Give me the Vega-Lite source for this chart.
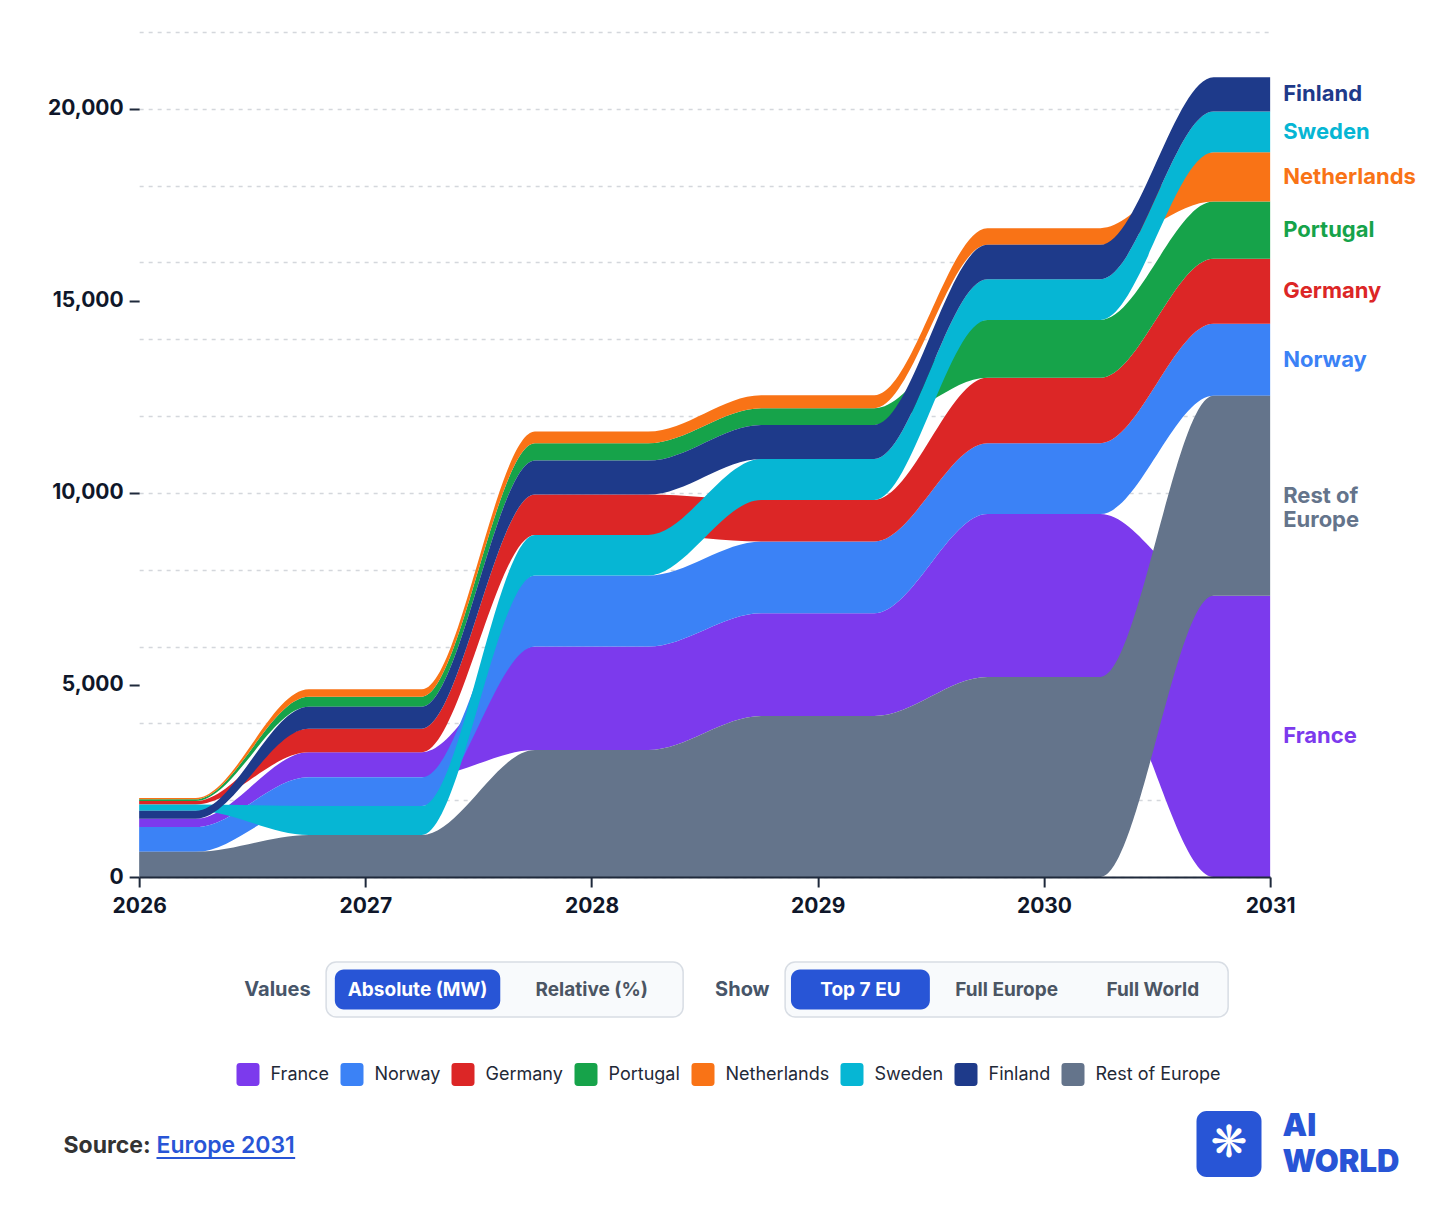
{
  "$schema": "https://vega.github.io/schema/vega-lite/v6.json",
  "padding": {"left": 47, "top": 32, "right": 10, "bottom": 10},
  "background": "white",
  "config": {
    "font": "Inter",
    "view": {"stroke": null},
    "axis": {"labelFont": "Inter", "titleFont": "Inter"},
    "legend": {"labelFont": "Inter", "titleFont": "Inter"}
  },
  "datasets": {
    "capacity": [
      {"year": 2026, "country": "France", "mw": 217},
      {"year": 2027, "country": "France", "mw": 651},
      {"year": 2028, "country": "France", "mw": 2691},
      {"year": 2029, "country": "France", "mw": 2673},
      {"year": 2030, "country": "France", "mw": 4240},
      {"year": 2031, "country": "France", "mw": 7320},
      {"year": 2026, "country": "Norway", "mw": 645},
      {"year": 2027, "country": "Norway", "mw": 747},
      {"year": 2028, "country": "Norway", "mw": 1849},
      {"year": 2029, "country": "Norway", "mw": 1868},
      {"year": 2030, "country": "Norway", "mw": 1843},
      {"year": 2031, "country": "Norway", "mw": 1871},
      {"year": 2026, "country": "Germany", "mw": 88},
      {"year": 2027, "country": "Germany", "mw": 615},
      {"year": 2028, "country": "Germany", "mw": 1050},
      {"year": 2029, "country": "Germany", "mw": 1084},
      {"year": 2030, "country": "Germany", "mw": 1702},
      {"year": 2031, "country": "Germany", "mw": 1693},
      {"year": 2026, "country": "Portugal", "mw": 44},
      {"year": 2027, "country": "Portugal", "mw": 260},
      {"year": 2028, "country": "Portugal", "mw": 451},
      {"year": 2029, "country": "Portugal", "mw": 434},
      {"year": 2030, "country": "Portugal", "mw": 1510},
      {"year": 2031, "country": "Portugal", "mw": 1493},
      {"year": 2026, "country": "Netherlands", "mw": 34},
      {"year": 2027, "country": "Netherlands", "mw": 192},
      {"year": 2028, "country": "Netherlands", "mw": 304},
      {"year": 2029, "country": "Netherlands", "mw": 340},
      {"year": 2030, "country": "Netherlands", "mw": 435},
      {"year": 2031, "country": "Netherlands", "mw": 1280},
      {"year": 2026, "country": "Sweden", "mw": 165},
      {"year": 2027, "country": "Sweden", "mw": 755},
      {"year": 2028, "country": "Sweden", "mw": 1059},
      {"year": 2029, "country": "Sweden", "mw": 1067},
      {"year": 2030, "country": "Sweden", "mw": 1060},
      {"year": 2031, "country": "Sweden", "mw": 1063},
      {"year": 2026, "country": "Finland", "mw": 208},
      {"year": 2027, "country": "Finland", "mw": 573},
      {"year": 2028, "country": "Finland", "mw": 886},
      {"year": 2029, "country": "Finland", "mw": 886},
      {"year": 2030, "country": "Finland", "mw": 893},
      {"year": 2031, "country": "Finland", "mw": 895},
      {"year": 2026, "country": "Rest of Europe", "mw": 655},
      {"year": 2027, "country": "Rest of Europe", "mw": 1094},
      {"year": 2028, "country": "Rest of Europe", "mw": 3307},
      {"year": 2029, "country": "Rest of Europe", "mw": 4193},
      {"year": 2030, "country": "Rest of Europe", "mw": 5210},
      {"year": 2031, "country": "Rest of Europe", "mw": 5210}
    ],
    "controls": [
      {"group": "Values", "option": "Absolute (MW)", "selected": true},
      {"group": "Values", "option": "Relative (%)", "selected": false},
      {"group": "Show", "option": "Top 7 EU", "selected": true},
      {"group": "Show", "option": "Full Europe", "selected": false},
      {"group": "Show", "option": "Full World", "selected": false}
    ],
    "footer": [
      {"source": "Source:", "link": "Europe 2031", "brand": "AI", "brand2": "WORLD", "icon": "❋"}
    ]
  },
  "resolve": {"scale": {"color": "independent"}, "legend": {"color": "independent"}},
  "spacing": 45,
  "center": true,
  "vconcat": [
    {
      "width": 1131,
      "height": 845,
      "data": {"name": "capacity"},
      "transform": [
        {"stack": "mw", "groupby": ["year"], "sort": [{"field": "mw", "order": "descending"}], "as": ["y0", "y1"]}
      ],
      "layer": [
        {
          "transform": [
            {"calculate": "datum.year - 0.25", "as": "plateau_start"},
            {"calculate": "datum.year + 0.25", "as": "plateau_end"},
            {"fold": ["plateau_start", "plateau_end"], "as": ["edge", "x"]}
          ],
          "mark": {"type": "area", "interpolate": "monotone", "clip": true},
          "encoding": {
            "x": {
              "field": "x",
              "type": "quantitative",
              "scale": {"domain": [2026, 2031], "nice": false, "zero": false},
              "axis": {
                "values": [2026, 2027, 2028, 2029, 2030, 2031],
                "format": "d",
                "title": null,
                "grid": false,
                "labelFlush": false,
                "domainColor": "#1e293b",
                "domainWidth": 2,
                "tickColor": "#1e293b",
                "tickWidth": 2,
                "tickSize": 10,
                "labelFontSize": 21,
                "labelFontWeight": "bold",
                "labelColor": "#0f172a",
                "labelPadding": 8,
                "zindex": 1
              }
            },
            "y": {
              "field": "y0",
              "type": "quantitative",
              "scale": {"domain": [0, 22000], "nice": false},
              "axis": {
                "values": [0, 2000, 4000, 5000, 6000, 8000, 10000, 12000, 14000, 15000, 16000, 18000, 20000, 22000],
                "format": ",d",
                "title": null,
                "domain": false,
                "grid": true,
                "gridDash": [4, 5],
                "gridColor": "#d4d7dc",
                "gridWidth": 1.5,
                "gridOpacity": {"condition": {"test": "datum.value % 2000 === 0", "value": 1}, "value": 0},
                "tickOpacity": {"condition": {"test": "datum.value % 5000 === 0", "value": 1}, "value": 0},
                "labelExpr": "datum.value % 5000 === 0 ? datum.label : ''",
                "tickSize": 10,
                "tickWidth": 2,
                "tickColor": "#1e293b",
                "labelFontSize": 21,
                "labelFontWeight": "bold",
                "labelColor": "#0f172a",
                "labelPadding": 6
              }
            },
            "y2": {"field": "y1"},
            "color": {
              "field": "country",
              "type": "nominal",
              "scale": {
                "domain": ["France", "Norway", "Germany", "Portugal", "Netherlands", "Sweden", "Finland", "Rest of Europe"],
                "range": ["#7c3aed", "#3b82f6", "#dc2626", "#16a34a", "#f97316", "#06b6d4", "#1e3a8a", "#64748b"]
              },
              "legend": null
            }
          }
        },
        {
          "transform": [
            {"filter": "datum.year === 2031"},
            {"fold": ["y0", "y1"], "as": ["edge", "v"]},
            {"aggregate": [{"op": "mean", "field": "v", "as": "mid"}], "groupby": ["country"]}
          ],
          "mark": {"type": "text", "align": "left", "baseline": "middle", "dx": 13, "fontSize": 22, "fontWeight": "bold", "lineHeight": 24},
          "encoding": {
            "x": {"datum": 2031, "type": "quantitative"},
            "y": {"field": "mid", "type": "quantitative"},
            "color": {"field": "country", "type": "nominal", "legend": null},
            "text": {
              "condition": {"test": "datum.country === 'Rest of Europe'", "value": ["Rest of", "Europe"]},
              "field": "country"
            }
          }
        }
      ]
    },
    {
      "spacing": 29,
      "hconcat": [
        {
          "width": 357,
          "height": 55,
          "view": {"fill": "#f8fafc", "stroke": "#d8dde4", "strokeWidth": 1.5, "cornerRadius": 10},
          "data": {"name": "controls"},
          "transform": [{"filter": "datum.group === 'Values'"}],
          "encoding": {
            "x": {"field": "option", "type": "nominal", "sort": null, "scale": {"paddingInner": 0.05, "paddingOuter": 0.05}, "axis": null},
            "y": {
              "field": "group",
              "type": "nominal",
              "scale": {"paddingInner": 0, "paddingOuter": 0.19},
              "axis": {"title": null, "domain": false, "ticks": false, "labelFontSize": 20, "labelFontWeight": "bold", "labelColor": "#475569", "labelPadding": 16}
            }
          },
          "layer": [
            {
              "mark": {"type": "rect", "cornerRadius": 9},
              "encoding": {"fill": {"condition": {"test": "datum.selected", "value": "#2855d6"}, "value": "transparent"}}
            },
            {
              "mark": {"type": "text", "fontSize": 19, "fontWeight": "bold"},
              "encoding": {
                "text": {"field": "option"},
                "color": {"condition": {"test": "datum.selected", "value": "#ffffff"}, "value": "#4b5563"}
              }
            }
          ]
        },
        {
          "width": 443,
          "height": 55,
          "view": {"fill": "#f8fafc", "stroke": "#d8dde4", "strokeWidth": 1.5, "cornerRadius": 10},
          "data": {"name": "controls"},
          "transform": [{"filter": "datum.group === 'Show'"}],
          "encoding": {
            "x": {"field": "option", "type": "nominal", "sort": null, "scale": {"paddingInner": 0.05, "paddingOuter": 0.04}, "axis": null},
            "y": {
              "field": "group",
              "type": "nominal",
              "scale": {"paddingInner": 0, "paddingOuter": 0.19},
              "axis": {"title": null, "domain": false, "ticks": false, "labelFontSize": 20, "labelFontWeight": "bold", "labelColor": "#475569", "labelPadding": 16}
            }
          },
          "layer": [
            {
              "mark": {"type": "rect", "cornerRadius": 9},
              "encoding": {"fill": {"condition": {"test": "datum.selected", "value": "#2855d6"}, "value": "transparent"}}
            },
            {
              "mark": {"type": "text", "fontSize": 19, "fontWeight": "bold"},
              "encoding": {
                "text": {"field": "option"},
                "color": {"condition": {"test": "datum.selected", "value": "#ffffff"}, "value": "#4b5563"}
              }
            }
          ]
        }
      ]
    },
    {
      "width": 1276,
      "height": 75,
      "layer": [
        {
          "data": {"name": "capacity"},
          "transform": [{"filter": "datum.year === 2031"}],
          "mark": {"type": "square", "opacity": 0},
          "encoding": {
            "color": {
              "field": "country",
              "type": "nominal",
              "scale": {
                "domain": ["France", "Norway", "Germany", "Portugal", "Netherlands", "Sweden", "Finland", "Rest of Europe"],
                "range": ["#7c3aed", "#3b82f6", "#dc2626", "#16a34a", "#f97316", "#06b6d4", "#1e3a8a", "#64748b"]
              },
              "legend": {
                "orient": "none",
                "legendX": 97,
                "legendY": -44,
                "direction": "horizontal",
                "title": null,
                "padding": 0,
                "symbolType": "M-0.7,-1H0.7Q1,-1 1,-0.7V0.7Q1,1 0.7,1H-0.7Q-1,1 -1,0.7V-0.7Q-1,-1 -0.7,-1Z",
                "symbolSize": 529,
                "symbolStrokeWidth": 0,
                "labelFontSize": 18,
                "labelColor": "#1f2937",
                "labelOffset": 11,
                "columnPadding": 11,
                "encode": {"symbols": {"update": {"opacity": {"value": 1}, "fillOpacity": {"value": 1}}}}
              }
            }
          }
        },
        {
          "data": {"name": "footer"},
          "mark": {"type": "text", "align": "left", "baseline": "middle", "fontSize": 23, "fontWeight": "bold", "color": "#333333"},
          "encoding": {
            "x": {"datum": -5.956, "type": "quantitative", "scale": {"domain": [0, 100], "nice": false, "zero": false}, "axis": null},
            "y": {"datum": 52, "type": "quantitative", "scale": {"domain": [0, 100], "nice": false, "reverse": true}, "axis": null},
            "text": {"field": "source"}
          }
        },
        {
          "data": {"name": "footer"},
          "mark": {"type": "text", "align": "left", "baseline": "middle", "dx": 93, "fontSize": 23, "fontWeight": 600, "color": "#2855d6"},
          "encoding": {
            "x": {"datum": -5.956, "type": "quantitative", "axis": null},
            "y": {"datum": 52, "type": "quantitative", "axis": null},
            "text": {"field": "link"}
          }
        },
        {
          "data": {"name": "footer"},
          "mark": {"type": "rule", "color": "#2855d6", "strokeWidth": 2},
          "encoding": {
            "x": {"datum": 1.332, "type": "quantitative", "axis": null},
            "x2": {"datum": 12.2},
            "y": {"datum": 68, "type": "quantitative", "axis": null}
          }
        },
        {
          "data": {"name": "footer"},
          "mark": {"type": "rect", "color": "#2855d6", "cornerRadius": 10},
          "encoding": {
            "x": {"datum": 82.837, "type": "quantitative", "axis": null},
            "x2": {"datum": 87.931},
            "y": {"datum": 5.3, "type": "quantitative", "axis": null},
            "y2": {"datum": 93.3}
          }
        },
        {
          "data": {"name": "footer"},
          "mark": {"type": "text", "align": "center", "baseline": "middle", "font": "DejaVu Sans", "fontSize": 44, "color": "#ffffff"},
          "encoding": {
            "x": {"datum": 85.384, "type": "quantitative", "axis": null},
            "y": {"datum": 49.3, "type": "quantitative", "axis": null},
            "text": {"field": "icon"}
          }
        },
        {
          "data": {"name": "footer"},
          "mark": {"type": "text", "align": "left", "baseline": "middle", "fontSize": 31, "fontWeight": 900, "color": "#2855d6"},
          "encoding": {
            "x": {"datum": 89.577, "type": "quantitative", "axis": null},
            "y": {"datum": 27, "type": "quantitative", "axis": null},
            "text": {"field": "brand"}
          }
        },
        {
          "data": {"name": "footer"},
          "mark": {"type": "text", "align": "left", "baseline": "middle", "fontSize": 31, "fontWeight": 900, "color": "#2855d6"},
          "encoding": {
            "x": {"datum": 89.577, "type": "quantitative", "axis": null},
            "y": {"datum": 75, "type": "quantitative", "axis": null},
            "text": {"field": "brand2"}
          }
        }
      ]
    }
  ]
}
